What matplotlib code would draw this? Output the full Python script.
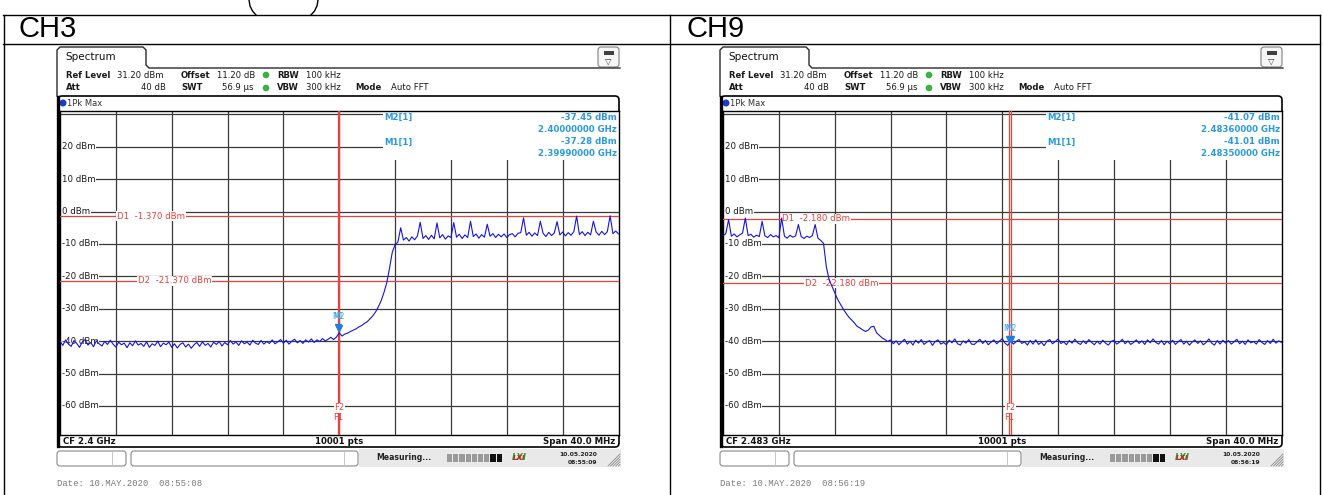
import matplotlib
matplotlib.use("Agg")
import matplotlib.pyplot as plt
import matplotlib.transforms as mtransforms
import numpy as np
from matplotlib.patches import FancyBboxPatch, Rectangle, Circle

plt.rcParams["font.family"] = "DejaVu Sans"

W, H = 1323, 495

# ---- data ----
TITLES = ["CH3", "CH9"]
REF_LEVEL = 31.2          # dBm, top of the grid
SPAN_MHZ = 40.0
LEVEL_TICKS = [20, 10, 0, -10, -20, -30, -40, -50, -60]
FREQ_GRID = [-16, -12, -8, -4, 0, 4, 8, 12, 16]   # MHz from CF

# 1Pk Max trace, 0.2 MHz steps from CF-20 MHz to CF+20 MHz
CH3_TRACE = [
    -40.0, -41.3, -39.6, -40.9, -41.6, -39.8, -40.7, -41.9, -40.2, -39.5,
    -41.2, -40.4, -41.7, -39.9, -40.8, -41.5, -40.1, -41.0, -39.7, -40.9,
    -41.8, -40.3, -41.1, -40.6, -42.0, -40.5, -41.4, -39.9, -41.2, -40.7,
    -41.6, -40.2, -41.9, -40.8, -41.3, -40.0, -41.7, -40.6, -41.1, -40.3,
    -41.9, -40.8, -42.1, -41.0, -40.5, -41.8, -40.9, -42.2, -41.1, -40.4,
    -41.6, -40.2, -41.3, -40.7, -41.8, -40.3, -41.0, -40.1, -41.5, -40.4,
    -41.1, -39.8, -40.9, -40.2, -41.3, -39.9, -40.8, -40.3, -41.2, -39.7,
    -40.6, -41.0, -39.8, -40.9, -40.1, -40.7, -39.6, -40.8, -40.2, -39.5,
    -40.6, -39.7, -40.9, -40.0, -39.4, -40.5, -39.8, -40.7, -39.6, -40.3,
    -39.3, -40.4, -39.6, -40.1, -39.2, -39.9, -39.4, -38.8, -39.5, -38.7,
    -37.45, -38.4, -37.8, -37.5, -37.0, -36.6, -36.2, -35.6, -35.2, -34.5,
    -34.0, -33.1, -32.2, -31.0, -29.4, -27.5, -25.0, -22.0, -17.5, -12.5,
    -10.2, -9.4, -5.0, -8.8, -8.0, -9.1, -7.8, -8.7, -7.5, -3.3,
    -8.3, -7.4, -8.6, -7.3, -8.4, -3.5, -8.1, -7.1, -8.5, -7.5,
    -8.0, -3.4, -7.9, -7.0, -8.3, -7.2, -8.0, -3.0, -7.7, -6.9,
    -8.2, -7.1, -7.9, -3.9, -7.6, -6.8, -8.0, -7.0, -7.8, -6.9,
    -8.0, -7.1, -6.8, -7.8, -6.7, -6.5, -1.9, -7.3, -6.4, -7.6,
    -6.6, -7.4, -3.0, -6.7, -7.7, -6.4, -7.4, -6.6, -3.1, -7.2,
    -6.3, -7.5, -6.5, -7.3, -6.2, -1.4, -7.1, -6.2, -7.4, -6.4,
    -7.2, -3.0, -6.3, -7.3, -6.1, -7.1, -6.2, -1.3, -6.8, -6.0, -6.9,
]
CH9_TRACE = [
    -7.5, -6.8, -2.5, -7.6, -6.9, -7.8, -7.2, -6.6, -2.0, -7.4,
    -7.0, -7.9, -7.3, -7.7, -3.0, -7.5, -8.0, -7.1, -7.8, -7.4,
    -8.1, -2.0, -7.6, -8.2, -7.3, -7.9, -7.5, -4.0, -7.7, -8.3,
    -7.6, -8.0, -7.4, -4.0, -8.2, -8.9, -9.8, -17.0, -21.0, -23.0,
    -25.0, -27.0, -28.5, -30.0, -31.3, -32.5, -33.4, -34.3, -35.4, -35.9,
    -36.5, -37.0, -36.6, -35.6, -35.4, -37.4, -38.2, -39.0, -39.5, -40.1,
    -39.6, -40.8, -39.9, -41.1, -40.2, -39.4, -40.9, -40.0, -41.2, -39.7,
    -40.6, -39.5, -41.0, -40.3, -39.8, -41.3, -40.1, -39.6, -40.9, -40.4,
    -41.1, -39.7, -40.5, -39.3, -40.8, -41.2, -39.9, -40.6, -39.5, -40.9,
    -41.0, -40.2, -39.4, -40.7, -39.8, -41.1, -40.3, -39.6, -40.8, -40.0,
    -39.2, -40.6, -41.3, -39.9, -40.9, -40.1, -39.5, -40.7, -40.2, -41.2,
    -39.8, -40.9, -39.6, -41.0, -40.3, -41.4, -40.0, -39.5, -40.8, -40.1,
    -39.3, -40.7, -40.2, -41.1, -39.8, -40.6, -39.4, -40.5, -41.0, -39.9,
    -40.8, -39.5, -40.4, -41.1, -40.0, -40.9, -39.7, -40.6, -41.2, -40.1,
    -39.7, -40.9, -40.3, -39.4, -40.8, -39.9, -41.0, -40.4, -39.6, -40.7,
    -39.9, -41.0, -39.6, -40.5, -39.3, -40.4, -40.9, -39.8, -41.1, -40.0,
    -40.8, -39.7, -41.0, -40.2, -39.5, -40.9, -40.0, -41.2, -40.3, -39.6,
    -40.7, -39.9, -41.1, -40.4, -39.3, -40.6, -41.2, -39.8, -40.9, -39.7,
    -40.6, -39.8, -40.9, -40.2, -39.4, -40.8, -40.0, -41.0, -39.6, -40.5,
    -40.1, -40.9, -39.5, -40.4, -41.0, -39.8, -40.7, -39.4, -40.6, -39.9, -40.4,
]

CH3_DLINES = [-1.370, -21.370]
CH9_DLINES = [-2.180, -22.180]
# markers M1, M2 (offset from CF in MHz, level, readout)
CH3_MK_MHZ = [-0.1, 0.0]
CH3_MK_DBM = [-37.28, -37.45]
CH3_MK_GHZ = ["2.39990000", "2.40000000"]
CH9_MK_MHZ = [0.5, 0.6]
CH9_MK_DBM = [-41.01, -41.07]
CH9_MK_GHZ = ["2.48350000", "2.48360000"]
CF_TEXT = ["CF 2.4 GHz", "CF 2.483 GHz"]
STATUS_TIME = ["08:55:09", "08:56:19"]
DATE_TIME = ["08:55:08", "08:56:19"]

RED = "#e8403c"
BLUE_TXT = "#2a9ae0"


def px_rect(x0, y0, x1, y1):
    return [x0 / W, 1 - y1 / H, (x1 - x0) / W, (y1 - y0) / H]


def panel(fig, bg, ox, trace, dlines, dlab_x, mk_mhz, mk_dbm, mk_ghz, cf, stime, dtime):
    X = lambda v: ox + v

    # tab + header line
    bg.plot([X(57), X(57), X(60), X(143), X(146), X(146), X(149), X(620)],
            [96, 50, 47, 47, 50, 65, 68, 68], color="#2a2a2a", lw=1.0)
    bg.text(X(65), 57.5, "Spectrum", fontsize=7.5, va="center", color="#111")
    bg.add_patch(FancyBboxPatch((X(598), 47), 21, 20, boxstyle="round,pad=0,rounding_size=3",
                                fc="#f6f6f6", ec="#808080", lw=0.8))
    bg.add_patch(Rectangle((X(603.5), 51), 10, 4, fc="#404040", ec="none"))
    bg.text(X(608.5), 61, "\u25bd", fontsize=6, ha="center", va="center", color="#333")

    # setting rows
    items = [
        ("Ref Level", 66, 75, "bold", "left"), ("31.20 dBm", 117, 75, "normal", "left"),
        ("Offset", 181, 75, "bold", "left"), ("11.20 dB", 217, 75, "normal", "left"),
        ("RBW", 277, 75, "bold", "left"), ("100 kHz", 306, 75, "normal", "left"),
        ("Att", 66, 88, "bold", "left"), ("40 dB", 166, 88, "normal", "right"),
        ("SWT", 181, 88, "bold", "left"), ("56.9 \u00b5s", 254, 88, "normal", "right"),
        ("VBW", 277, 88, "bold", "left"), ("300 kHz", 306, 88, "normal", "left"),
        ("Mode", 355, 88, "bold", "left"), ("Auto FFT", 391, 88, "normal", "left"),
    ]
    for txt, x, y, wt, ha in items:
        bg.text(X(x), y, txt, fontsize=6.1, fontweight=wt, ha=ha, va="center", color="#1a1a1a")
    for y in (75, 88):
        bg.add_patch(Circle((X(266), y), 2.6, color="#3cb043"))

    # diagram frame
    bg.add_patch(FancyBboxPatch((X(58), 96), 561, 351, boxstyle="round,pad=0,rounding_size=4",
                                fc="none", ec="black", lw=1.2))
    bg.plot([X(58), X(58)], [97, 446], color="black", lw=2.4)
    bg.add_patch(Circle((X(63), 103), 2.8, color="#1a3ccf"))
    bg.text(X(67), 103, "1Pk Max", fontsize=6, va="center", color="#333")

    # bottom row
    bg.text(X(63), 441, cf, fontsize=6.2, fontweight="bold", va="center", color="#111")
    bg.text(X(339), 441, "10001 pts", fontsize=6.2, fontweight="bold", ha="center", va="center", color="#111")
    bg.text(X(615), 441, "Span 40.0 MHz", fontsize=6.2, fontweight="bold", ha="right", va="center", color="#111")

    # status bar
    bg.add_patch(Rectangle((X(359), 449), 262, 18, fc="#e9e9e9", ec="none"))
    bg.add_patch(FancyBboxPatch((X(57), 451), 69, 15, boxstyle="round,pad=0,rounding_size=3",
                                fc="white", ec="#8a8a8a", lw=0.8))
    bg.plot([X(112), X(112)], [452, 465], color="#c8c8c8", lw=0.7)
    bg.add_patch(FancyBboxPatch((X(131), 451), 227, 15, boxstyle="round,pad=0,rounding_size=3",
                                fc="white", ec="#8a8a8a", lw=0.8))
    bg.plot([X(344), X(344)], [452, 465], color="#c8c8c8", lw=0.7)
    bg.text(X(376), 458, "Measuring...", fontsize=5.6, fontweight="bold", va="center", color="#222")
    for k in range(9):
        col = "#111111" if k >= 7 else "#9a9a9a"
        bg.add_patch(Rectangle((X(447 + 6.2 * k), 454), 5.2, 8, fc=col, ec="none"))
    bg.text(X(519), 458, "LXI", fontsize=6, fontweight="bold", style="italic",
            ha="center", va="center", color="#2f9a3a")
    bg.text(X(519.5), 458, "LXI", fontsize=5, fontweight="bold", style="italic",
            ha="center", va="center", color="#c82020")
    bg.text(X(597), 454, "10.05.2020", fontsize=4.3, fontweight="bold", ha="right", va="center", color="#222")
    bg.text(X(597), 462, stime, fontsize=4.3, fontweight="bold", ha="right", va="center", color="#222")
    for k in range(5):
        bg.plot([X(608 + 2.6 * k), X(620)], [466, 454 + 2.6 * k], color="#8a8a8a", lw=0.6)

    bg.text(X(57), 483, f"Date: 10.MAY.2020  {dtime}", family="Liberation Mono",
            fontsize=6.4, va="center", color="#7a7a7a")

    # ---- the grid area ----
    ax = fig.add_axes(px_rect(X(60), 110.5, X(618.5), 434.5))
    ax.set_xlim(-SPAN_MHZ / 2, SPAN_MHZ / 2)
    ax.set_ylim(REF_LEVEL - 100, REF_LEVEL)
    ax.set_xticks([])
    ax.set_yticks([])
    for s in ax.spines.values():
        s.set_color("black")
        s.set_linewidth(1.0)
    for lv in [30] + LEVEL_TICKS:
        ax.axhline(lv, color="#3a3a3a", lw=0.9, zorder=1)
    for f in FREQ_GRID:
        ax.axvline(f, color="#3a3a3a", lw=0.9, zorder=1)

    blend = mtransforms.blended_transform_factory(bg.transData, ax.transData)
    for lv in LEVEL_TICKS:
        ax.text(X(62), lv, f"{lv} dBm", transform=blend, fontsize=6.2, va="center",
                color="#1a1a1a", zorder=2,
                bbox=dict(fc="white", ec="none", pad=0.4))

    # marker readout area
    ax.add_patch(Rectangle((X(383), 110.5), 236, 49.5, transform=bg.transData,
                           fc="white", ec="none", zorder=2))
    readout = [("M2[1]", mk_dbm[1], mk_ghz[1], 117), ("M1[1]", mk_dbm[0], mk_ghz[0], 142)]
    for name, lvl, ghz, y in readout:
        kw = dict(transform=bg.transData, fontsize=6.2, fontweight="bold", color=BLUE_TXT,
                  va="center", zorder=3)
        ax.text(X(384), y, name, ha="left", **kw)
        ax.text(X(617), y, f"{lvl:.2f} dBm", ha="right", **kw)
        ax.text(X(617), y + 12, f"{ghz} GHz", ha="right", **kw)

    # display lines
    for i, d in enumerate(dlines):
        ax.axhline(d, color=RED, lw=0.9, zorder=3)
        ax.text(X(dlab_x[i]), d, f"D{i + 1}  {d:.3f} dBm", transform=blend, fontsize=6.2,
                va="center", color=RED, zorder=4,
                bbox=dict(fc="white", ec="none", pad=0.4))

    # frequency lines
    for f in mk_mhz:
        ax.axvline(f, color=RED, lw=0.9, zorder=3)
    fx = mtransforms.blended_transform_factory(ax.transData, bg.transData)
    ax.text(mk_mhz[1], 408, "F2", transform=fx, fontsize=6, ha="center", va="center",
            color=RED, zorder=4, bbox=dict(fc="white", ec="none", pad=0.2))
    ax.text(mk_mhz[0], 418, "F1", transform=fx, fontsize=6, ha="center", va="center",
            color=RED, zorder=4)

    freqs = np.linspace(-SPAN_MHZ / 2, SPAN_MHZ / 2, len(trace))
    ax.plot(freqs, trace, color="#1414e0", lw=0.8, zorder=5)

    ax.plot(mk_mhz, np.array(mk_dbm) + 1.6, "v", color="#1f7fe0", ms=4.5, zorder=6)
    for i, name in enumerate(["M1", "M2"]):
        ax.text(mk_mhz[i], mk_dbm[i] + 5.0, name, fontsize=5.5, ha="center", va="center",
                color="#3ea6e8", zorder=6)
    return ax


fig = plt.figure(figsize=(W / 100, H / 100), dpi=100)
bg = fig.add_axes([0, 0, 1, 1])
bg.set_xlim(0, W)
bg.set_ylim(H, 0)
bg.axis("off")

# table frame
bg.plot([3, 1320], [15, 15], color="black", lw=1.0)
bg.plot([3, 1320], [43.5, 43.5], color="black", lw=1.0)
for x in (3.5, 670, 1320):
    bg.plot([x, x], [15, 495], color="black", lw=1.0)
bg.plot([249, 250, 252.5, 256], [0, 6, 11, 15], color="black", lw=1.0)
bg.plot([318, 317, 314.5, 311], [0, 6, 11, 15], color="black", lw=1.0)
bg.text(19, 29, TITLES[0], family="Liberation Sans", fontsize=21, va="center")
bg.text(686, 29, TITLES[1], family="Liberation Sans", fontsize=21, va="center")

panel(fig, bg, 0, CH3_TRACE, CH3_DLINES, [117, 138], CH3_MK_MHZ, CH3_MK_DBM, CH3_MK_GHZ,
      CF_TEXT[0], STATUS_TIME[0], DATE_TIME[0])
panel(fig, bg, 663, CH9_TRACE, CH9_DLINES, [119, 142], CH9_MK_MHZ, CH9_MK_DBM, CH9_MK_GHZ,
      CF_TEXT[1], STATUS_TIME[1], DATE_TIME[1])

fig.savefig("out.png", dpi=100)
